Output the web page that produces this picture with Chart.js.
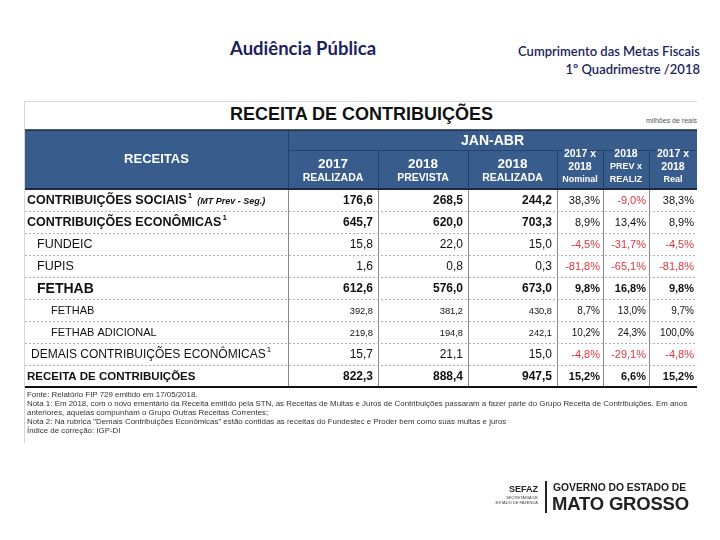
<!DOCTYPE html>
<html>
<head>
<meta charset="utf-8">
<script src="https://cdn.jsdelivr.net/npm/chart.js@4.4.1/dist/chart.umd.min.js"></script>
<style>
  body { margin: 0; background: #fff; width: 720px; height: 540px; position: relative; overflow: hidden; font-family: "Liberation Sans", Arial, sans-serif; }
  #c { position: absolute; left: 0; top: 0; }
  .hd { position: absolute; color: #1c1f5e; font-family: Lato, "Open Sans", sans-serif; white-space: nowrap; }
  #aud { left: 230px; top: 37px; font-size: 18.5px; font-weight: 700; }
  #meta { right: 20px; top: 42px; font-size: 13px; text-align: right; line-height: 18px; font-weight: 600; }
  #title { position: absolute; left: 230px; top: 104px; font-size: 18px; font-weight: 700; color: #111; white-space: nowrap; }
  #unit { position: absolute; right: 23px; top: 117px; font-size: 7px; color: #555; }
  #notes { position: absolute; left: 27px; top: 390px; font-size: 7.9px; line-height: 9px; color: #333; white-space: nowrap; }
  #logo { position: absolute; left: 490px; top: 478px; width: 210px; height: 40px; }
  #logo div { white-space: nowrap; }
  #sefaz { position: absolute; right: 162px; top: 6px; font-size: 9px; font-weight: 700; color: #222; }
  #sefaz2 { position: absolute; right: 162px; top: 17px; font-size: 4px; line-height: 5px; text-align: right; color: #444; }
  #bar { position: absolute; left: 55px; top: 3px; width: 2px; height: 32px; background: #222; }
  #gov { position: absolute; left: 63px; top: 4px; font-size: 10.3px; font-weight: 700; color: #222; }
  #mt { position: absolute; left: 62px; top: 15px; font-size: 18.5px; font-weight: 700; color: #222; letter-spacing: -0.2px; }
</style>
</head>
<body>
<div class="hd" id="aud">Audiência Pública</div>
<div class="hd" id="meta">Cumprimento das Metas Fiscais<br>1º Quadrimestre /2018</div>
<div id="title">RECEITA DE CONTRIBUIÇÕES</div>
<div id="unit">milhões de reais</div>
<canvas id="c" width="720" height="540"></canvas>
<div id="notes">
  Fonte: Relatório FIP 729 emitido em 17/05/2018.<br>
  Nota 1: Em 2018, com o novo ementário da Receita emitido pela STN, as Receitas de Multas e Juros de Contribuições passaram a fazer parte do Grupo Receita de Contribuições. Em anos<br>
  anteriores, aquelas compunham o Grupo Outras Receitas Correntes;<br>
  Nota 2: Na rubrica "Demais Contribuições Econômicas" estão contidas as receitas do Fundestec e Proder bem como suas multas e juros<br>
  Índice de correção: IGP-DI
</div>
<div id="logo">
  <div id="sefaz">SEFAZ</div>
  <div id="sefaz2">SECRETARIA DE<br>ESTADO DE FAZENDA</div>
  <div id="bar"></div>
  <div id="gov">GOVERNO DO ESTADO DE</div>
  <div id="mt">MATO GROSSO</div>
</div>
<script>
// rows of the table
const rowLabels = ['CONTRIBUIÇÕES SOCIAIS', 'CONTRIBUIÇÕES ECONÔMICAS', 'FUNDEIC', 'FUPIS', 'FETHAB', 'FETHAB', 'FETHAB ADICIONAL', 'DEMAIS CONTRIBUIÇÕES ECONÔMICAS', 'RECEITA DE CONTRIBUIÇÕES'];
const rowNote = ['1', '1', '', '', '', '', '', '1', ''];
const rowExtra = ['(MT Prev - Seg.)', '', '', '', '', '', '', '', ''];

// values, milhões de reais
const realizada2017 = [176.6, 645.7, 15.8, 1.6, 612.6, 392.8, 219.8, 15.7, 822.3];
const prevista2018 = [268.5, 620.0, 22.0, 0.8, 576.0, 381.2, 194.8, 21.1, 888.4];
const realizada2018 = [244.2, 703.3, 15.0, 0.3, 673.0, 430.8, 242.1, 15.0, 947.5];
// variations, %
const varNominal = [38.3, 8.9, -4.5, -81.8, 9.8, 8.7, 10.2, -4.8, 15.2];
const varPrevReal = [-9.0, 13.4, -31.7, -65.1, 16.8, 13.0, 24.3, -29.1, 6.6];
const varReal = [38.3, 8.9, -4.5, -81.8, 9.8, 9.7, 100.0, -4.8, 15.2];

// header texts
const groupLabel = 'JAN-ABR';
const firstHead = 'RECEITAS';
const valueYears = ['2017', '2018', '2018'];
const valueKinds = ['REALIZADA', 'PREVISTA', 'REALIZADA'];
const pctHeads = [['2017 x', '2018', 'Nominal'], ['2018', 'PREV x', 'REALIZ'], ['2017 x', '2018', 'Real']];

const series = [realizada2017, prevista2018, realizada2018, varNominal, varPrevReal, varReal];

// layout
const colWidths = [263, 90, 90, 89, 46, 46, 48];
const edges = [0];
colWidths.forEach(w => edges.push(edges[edges.length - 1] + w));
const blue = '#385d8c';
const red = '#e0353d';
const FONT = '"Liberation Sans", Arial, sans-serif';
const rowIndent = [2, 2, 12, 12, 12, 26, 26, 6, 2];
const labelFont = ['bold 12.5px', 'bold 12.5px', '12.5px', '12.5px', 'bold 14px', '11px', '11px', '12px', 'bold 11.5px'];
const valFont = ['bold 12px', 'bold 12px', '12px', '12px', 'bold 12px', '9.3px', '9.3px', '12px', 'bold 12px'];
const pctFont = ['11px', '11px', '11px', '11px', 'bold 11px', '10px', '10px', '11px', 'bold 11px'];

const fmt = v => v.toFixed(1).replace('.', ',');

const tablePlugin = {
  id: 'table',
  beforeDraw(chart) {
    const { ctx, chartArea: a, scales: { x } } = chart;
    const top = a.top - 59, mid = a.top - 39;
    ctx.save();
    // frame of the pasted picture
    ctx.strokeStyle = '#d6d6d6';
    ctx.lineWidth = 1;
    ctx.beginPath();
    ctx.moveTo(a.left - 0.5, 443); ctx.lineTo(a.left - 0.5, 101.5); ctx.lineTo(a.right, 101.5);
    ctx.stroke();

    ctx.fillStyle = blue;
    ctx.fillRect(a.left, top, a.right - a.left, 59);
    ctx.strokeStyle = '#23426a';
    ctx.beginPath();
    const px = v => Math.round(x.getPixelForValue(v)) + 0.5;
    ctx.moveTo(px(edges[1]), top); ctx.lineTo(px(edges[1]), a.top);
    ctx.moveTo(px(edges[1]), mid + 0.5); ctx.lineTo(a.right, mid + 0.5);
    for (let k = 2; k < edges.length - 1; k++) {
      ctx.moveTo(px(edges[k]), mid); ctx.lineTo(px(edges[k]), a.top);
    }
    ctx.stroke();
    ctx.strokeStyle = '#1c2a3c';
    ctx.lineWidth = 1.5;
    ctx.beginPath();
    ctx.moveTo(a.left, top); ctx.lineTo(a.right, top);
    ctx.stroke();

    ctx.fillStyle = '#fff';
    ctx.textAlign = 'center';
    ctx.textBaseline = 'middle';
    const cx = k => (x.getPixelForValue(edges[k]) + x.getPixelForValue(edges[k + 1])) / 2;
    ctx.font = 'bold 13px ' + FONT;
    ctx.fillText(firstHead, cx(0), top + 29);
    ctx.font = 'bold 14px ' + FONT;
    ctx.fillText(groupLabel, (x.getPixelForValue(edges[1]) + a.right) / 2, top + 11);
    valueYears.forEach((yr, j) => {
      ctx.font = 'bold 13.5px ' + FONT;
      ctx.fillText(yr, cx(j + 1), top + 34);
      ctx.font = 'bold 10.5px ' + FONT;
      ctx.fillText(valueKinds[j], cx(j + 1), top + 48);
    });
    pctHeads.forEach((lines, j) => {
      lines.forEach((t, l) => {
        ctx.font = (/^[0-9]/.test(t) ? 'bold 10.5px ' : 'bold 9px ') + FONT;
        ctx.fillText(t, cx(j + 4), top + 24 + l * 13);
      });
    });
    ctx.restore();
  },
  afterDraw(chart) {
    const { ctx, chartArea: a, scales: { y } } = chart;
    ctx.save();
    ctx.textBaseline = 'middle';
    // row labels
    rowLabels.forEach((lab, i) => {
      const yy = y.getPixelForValue(i) + 1;
      let xx = a.left + rowIndent[i];
      ctx.fillStyle = '#111';
      ctx.textAlign = 'left';
      ctx.font = labelFont[i] + ' ' + FONT;
      ctx.fillText(lab, xx, yy);
      xx += ctx.measureText(lab).width + 1;
      if (rowNote[i]) {
        ctx.font = (labelFont[i].includes('bold') ? 'bold ' : '') + '8px ' + FONT;
        ctx.fillText(rowNote[i], xx, yy - 5);
        xx += ctx.measureText(rowNote[i]).width + 5;
      }
      if (rowExtra[i]) {
        ctx.font = 'italic bold 9px ' + FONT;
        ctx.fillText(rowExtra[i], xx, yy + 1);
      }
    });
    // cell values at the points of each column dataset
    series.forEach((s, j) => {
      const meta = chart.getDatasetMeta(j);
      meta.data.forEach((pt, i) => {
        const v = s[i];
        const pct = j >= 3;
        ctx.textAlign = 'right';
        ctx.fillStyle = pct && v < 0 ? red : '#111';
        ctx.font = (pct ? pctFont[i] : valFont[i]) + ' ' + FONT;
        ctx.fillText(fmt(v) + (pct ? '%' : ''), pt.x - (pct ? 3 : 5), pt.y + 1);
      });
    });
    // header bottom and table bottom rules
    ctx.strokeStyle = '#1c2a3c';
    ctx.lineWidth = 2;
    ctx.beginPath();
    ctx.moveTo(a.left, a.top); ctx.lineTo(a.right, a.top);
    ctx.stroke();
    ctx.strokeStyle = '#111';
    ctx.beginPath();
    ctx.moveTo(a.left, a.bottom); ctx.lineTo(a.right, a.bottom);
    ctx.stroke();
    ctx.restore();
  }
};

new Chart(document.getElementById('c'), {
  type: 'scatter',
  data: {
    datasets: series.map((s, j) => ({
      label: 'col' + j,
      data: s.map((v, i) => ({ x: edges[j + 2], y: i })),
      pointRadius: 0
    }))
  },
  options: {
    responsive: false,
    animation: false,
    layout: { padding: { left: 25, right: 23, top: 189, bottom: 153 } },
    plugins: { legend: { display: false }, tooltip: { enabled: false } },
    scales: {
      x: {
        type: 'linear', min: 0, max: edges[edges.length - 1],
        afterBuildTicks: s => { s.ticks = edges.map(v => ({ value: v })); },
        afterFit: s => { s.height = 0; },
        ticks: { display: false },
        border: { display: false },
        grid: { drawTicks: false, color: c => (c.index === 0 || c.index === edges.length - 1) ? 'rgba(0,0,0,0)' : '#8c8c8c' }
      },
      y: {
        type: 'category', labels: rowLabels, offset: true,
        afterFit: s => { s.width = 0; },
        ticks: { display: false },
        border: { display: false, dash: [2, 2] },
        grid: { offset: true, drawTicks: false, color: c => (c.index === 0 || c.index >= rowLabels.length) ? 'rgba(0,0,0,0)' : '#b0b0b0' }
      }
    }
  },
  plugins: [tablePlugin]
});
</script>
</body>
</html>
